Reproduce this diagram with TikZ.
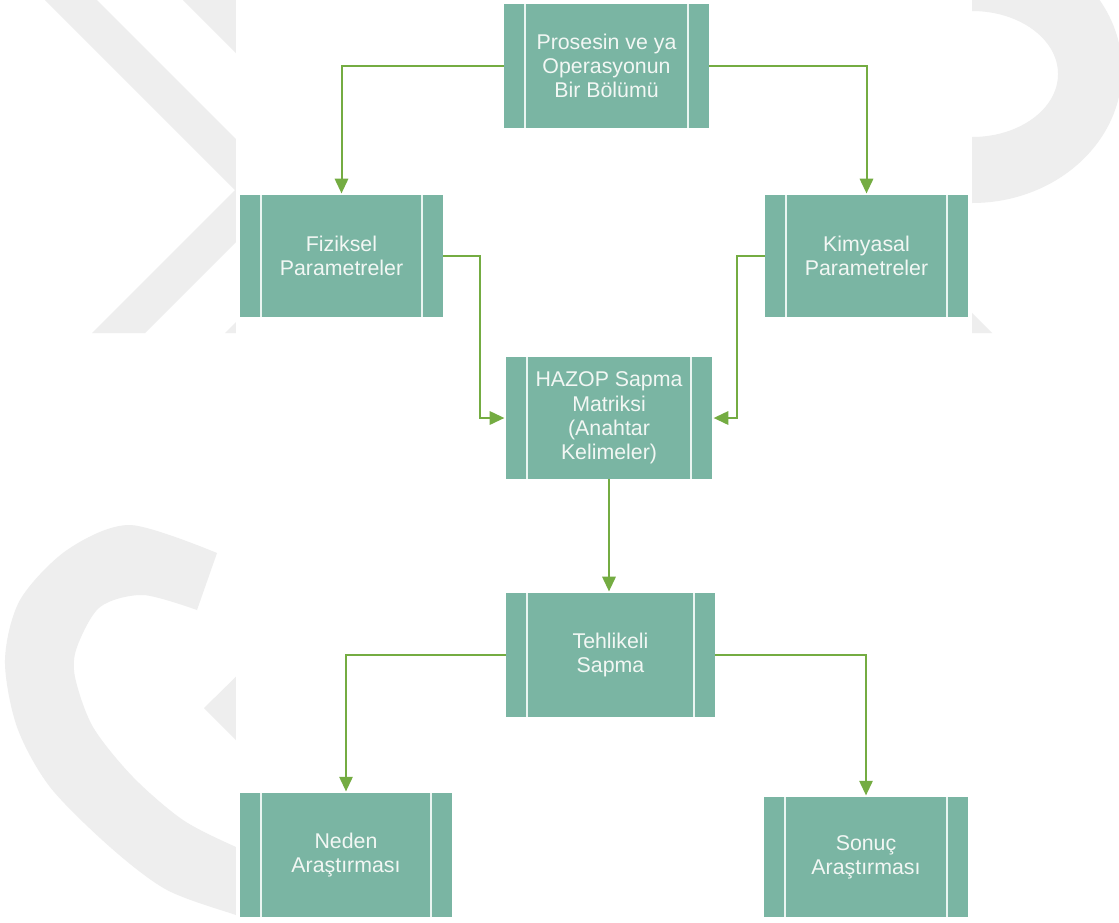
\documentclass[tikz,border=0pt]{standalone}
\usepackage{fontspec}
\setmainfont{Liberation Sans}
\usetikzlibrary{arrows.meta}
\definecolor{boxfill}{HTML}{7AB5A3}
\definecolor{boxtext}{HTML}{F2F7F4}
\definecolor{innerln}{HTML}{EAF5F1}
\definecolor{arrowgreen}{HTML}{74AC42}
\definecolor{wmgray}{HTML}{EEEEEE}
\tikzset{
  box/.style={rectangle, fill=boxfill, text=boxtext, align=center, inner sep=0pt,
    font=\fontsize{16}{18.2}\selectfont,
    path picture={
      \draw[innerln, line width=1.4pt]
        ([xshift=15.75pt]path picture bounding box.north west) --
        ([xshift=15.75pt]path picture bounding box.south west);
      \draw[innerln, line width=1.4pt]
        ([xshift=-15.75pt]path picture bounding box.north east) --
        ([xshift=-15.75pt]path picture bounding box.south east);
    }},
  conn/.style={draw=arrowgreen, line width=1.5pt,
    -{Triangle[length=11pt,width=10pt]}, shorten >=1pt}
}
\begin{document}
\begin{tikzpicture}[x=0.75pt,y=-0.75pt]
\useasboundingbox (0,0) rectangle (1119,922);
\fill[white] (0,0) rectangle (1119,922);
% watermark
\fill[wmgray] (45,0) -- (235,190) -- (92,333) -- (145,333) -- (287.5,190.5) -- (97,0) -- cycle;
\fill[wmgray] (183,0) -- (300,117) -- (300,0) -- cycle;
\fill[wmgray] (225,333) -- (250,308) -- (250,333) -- cycle;
\fill[wmgray] (204,708) -- (250,663) -- (250,754) -- cycle;
\fill[wmgray] plot[smooth] coordinates {(217,553) (130,525) (67,550) (20,600) (5,660) (17,727) (50,787) (110,847) (167,890) (236,915) (260,922)}
  -- (260,860) -- plot[smooth] coordinates {(260,855) (236,847) (183,820) (133,777) (93,727) (75,677) (77,647) (100,607) (143,595) (197,610)} -- cycle;
\fill[wmgray, even odd rule] (972,70) ellipse [x radius=112.5pt, y radius=99.75pt]
  (972,74) ellipse [x radius=64.5pt, y radius=47.25pt];
\fill[wmgray] (950,291) -- (992,333) -- (950,333) -- cycle;
% white panel
\fill[white] (236,0) rectangle (972,922);
% boxes
\node[box, minimum width=153.75pt, minimum height=93pt] (p1) at (606.5,66) {Prosesin ve ya\\Operasyonun\\Bir Bölümü};
\node[box, minimum width=152.25pt, minimum height=91.5pt] (fiz) at (341.5,256) {Fiziksel\\Parametreler};
\node[box, minimum width=152.25pt, minimum height=91.5pt] (kim) at (866.5,256) {Kimyasal\\Parametreler};
\node[box, minimum width=154.5pt, minimum height=91.5pt] (haz) at (609,418) {HAZOP Sapma\\Matriksi\\(Anahtar\\Kelimeler)};
\node[box, minimum width=156.75pt, minimum height=93pt] (teh) at (610.5,655) {Tehlikeli\\Sapma};
\node[box, minimum width=159pt, minimum height=93pt] (ned) at (346,855) {Neden\\Araştırması};
\node[box, minimum width=153pt, minimum height=90pt] (son) at (866,857) {Sonuç\\Araştırması};
% connectors
\draw[conn] (p1.west) -| (fiz.north);
\draw[conn] (p1.east) -| (kim.north);
\draw[conn] (fiz.east) -- ++(37,0) |- (haz.west);
\draw[conn] (kim.west) -- ++(-28,0) |- (haz.east);
\draw[conn] (haz.south) -- (haz.south |- teh.north);
\draw[conn] (teh.west) -| (ned.north);
\draw[conn] (teh.east) -| (son.north);
\end{tikzpicture}
\end{document}
